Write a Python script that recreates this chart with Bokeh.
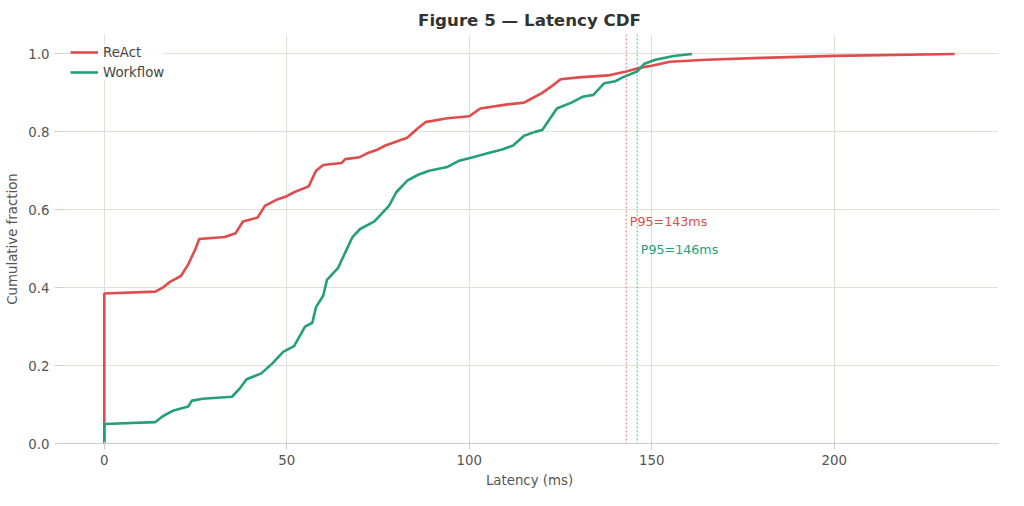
from bokeh.plotting import figure
from bokeh.embed import file_html
from bokeh.resources import INLINE
from bokeh.models import Span, Label, Range1d, CustomJSTickFormatter

react_x = [0, 0, 14, 16, 18, 21, 23, 25, 26, 33, 36, 38, 42, 44, 47, 50, 52, 56, 58, 60, 65, 66, 70, 72, 75, 77, 83, 86, 88, 94, 100, 103, 110, 115, 117, 120, 123, 125, 130, 138, 143, 147, 150, 155, 165, 180, 200, 233]
react_y = [0, 0.385, 0.39, 0.40, 0.415, 0.43, 0.46, 0.50, 0.525, 0.53, 0.54, 0.57, 0.58, 0.61, 0.625, 0.635, 0.645, 0.66, 0.70, 0.715, 0.72, 0.73, 0.735, 0.745, 0.755, 0.765, 0.785, 0.81, 0.825, 0.835, 0.84, 0.86, 0.87, 0.875, 0.885, 0.90, 0.92, 0.935, 0.94, 0.945, 0.955, 0.965, 0.97, 0.98, 0.985, 0.99, 0.995, 1.0]
wf_x = [0, 0, 14, 16, 19, 23, 24, 27, 35, 37, 39, 43, 46, 49, 52, 55, 57, 58, 60, 61, 64, 66, 68, 70, 74, 76, 78, 80, 83, 86, 89, 94, 97, 101, 105, 109, 112, 115, 118, 120, 124, 128, 131, 134, 137, 140, 142, 146, 148, 151, 156, 161]
wf_y = [0, 0.05, 0.055, 0.07, 0.085, 0.095, 0.11, 0.115, 0.12, 0.14, 0.165, 0.18, 0.205, 0.235, 0.25, 0.30, 0.31, 0.35, 0.38, 0.42, 0.45, 0.49, 0.53, 0.55, 0.57, 0.59, 0.61, 0.645, 0.675, 0.69, 0.70, 0.71, 0.725, 0.735, 0.745, 0.755, 0.765, 0.79, 0.80, 0.805, 0.86, 0.875, 0.89, 0.895, 0.925, 0.93, 0.94, 0.955, 0.975, 0.985, 0.995, 1.0]
p95 = {"ReAct": 143, "Workflow": 146}

RED = "#e04b4b"
GREEN = "#23a079"

p = figure(width=1008, height=490, output_backend="svg", toolbar_location=None,
           title="Figure 5 — Latency CDF", x_range=Range1d(-12, 245), y_range=Range1d(0, 1.05),
           min_border_left=60, min_border_top=34, min_border_right=10, min_border_bottom=40)
p.title.align = "center"
p.title.text_font = "DejaVu Sans"
p.title.text_font_size = "12.5pt"
p.title.text_color = "#333333"
p.line(react_x, react_y, color=RED, line_width=2.6, legend_label="ReAct")
p.line(wf_x, wf_y, color=GREEN, line_width=2.6, legend_label="Workflow")
for v, c in [(p95["ReAct"], RED), (p95["Workflow"], GREEN)]:
    p.add_layout(Span(location=v, dimension="height", line_color=c, line_dash="2 2", line_width=1, line_alpha=0.8))
p.add_layout(Label(x=p95["ReAct"] + 1, y=0.55, text="P95=143ms", text_color=RED, text_font_size="9.5pt", text_font="DejaVu Sans"))
p.add_layout(Label(x=p95["Workflow"] + 1, y=0.48, text="P95=146ms", text_color=GREEN, text_font_size="9.5pt", text_font="DejaVu Sans"))
p.xaxis.axis_label = "Latency (ms)"
p.yaxis.axis_label = "Cumulative fraction"
for ax in (p.xaxis[0], p.yaxis[0]):
    ax.axis_label_text_font_style = "normal"
    ax.axis_label_text_font = "DejaVu Sans"
    ax.axis_label_text_color = "#555555"
    ax.axis_label_text_font_size = "10pt"
    ax.major_label_text_font = "DejaVu Sans"
    ax.major_label_text_color = "#555555"
    ax.major_label_text_font_size = "10pt"
    ax.minor_tick_line_color = None
    ax.major_tick_line_color = "#cccccc"
p.xaxis.ticker = [0, 50, 100, 150, 200]
p.yaxis.ticker = [0, 0.2, 0.4, 0.6, 0.8, 1.0]
p.yaxis.formatter = CustomJSTickFormatter(code="return tick.toFixed(1)")
p.xaxis.axis_line_color = "#cccccc"
p.yaxis.axis_line_color = None
p.grid.grid_line_color = "#e0e0d8"
p.outline_line_color = None
p.legend.location = "top_left"
p.legend.border_line_color = None
p.legend.background_fill_alpha = 0.8
p.legend.label_text_font = "DejaVu Sans"
p.legend.label_text_font_size = "10pt"
p.legend.glyph_width = 28
p.legend.glyph_height = 16
p.legend.spacing = 4
p.legend.padding = 6

open("out.html", "w").write(file_html(p, INLINE))
